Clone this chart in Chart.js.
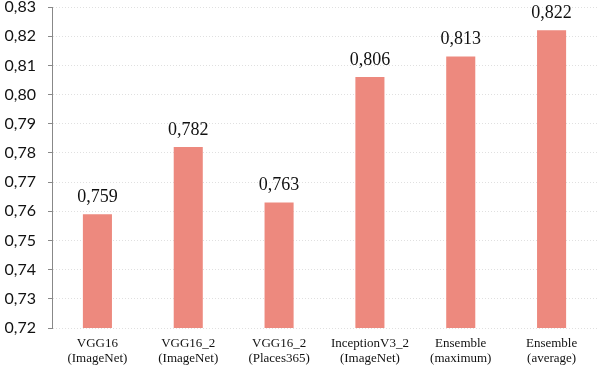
<!DOCTYPE html>
<html>
<head>
<meta charset="utf-8">
<script src="https://cdn.jsdelivr.net/npm/chart.js@4"></script>
<style>
  html, body { margin: 0; padding: 0; background: #fff; }
  #wrap { width: 600px; height: 368px; }
</style>
</head>
<body>
<div id="wrap"><canvas id="c" width="600" height="368"></canvas></div>
<script>
// chart data
const categories = [
    ['VGG16', '(ImageNet)'],
    ['VGG16_2', '(ImageNet)'],
    ['VGG16_2', '(Places365)'],
    ['InceptionV3_2', '(ImageNet)'],
    ['Ensemble', '(maximum)'],
    ['Ensemble', '(average)']
];
const accuracy = [0.759, 0.782, 0.763, 0.806, 0.813, 0.822];
const yMin = 0.72;
const yMax = 0.83;
const yStep = 0.01;

const fmt = (v, digits) => v.toFixed(digits).replace('.', ',');

// draws the value above each bar
const valueLabels = {
    id: 'valueLabels',
    afterDatasetsDraw(chart) {
        const ctx = chart.ctx;
        const meta = chart.getDatasetMeta(0);
        ctx.save();
        ctx.font = '18px "Liberation Serif", serif';
        ctx.fillStyle = '#111';
        ctx.textAlign = 'center';
        ctx.textBaseline = 'bottom';
        meta.data.forEach((bar, i) => {
            ctx.fillText(fmt(accuracy[i], 3), bar.x, bar.y - 8);
        });
        ctx.restore();
    }
};

const ctx = document.getElementById('c').getContext('2d');
new Chart(ctx, {
    type: 'bar',
    data: {
        labels: categories,
        datasets: [{
            data: accuracy,
            backgroundColor: 'rgb(237, 137, 126)',
            borderWidth: 0,
            barPercentage: 0.32,
            categoryPercentage: 1
        }]
    },
    options: {
        responsive: false,
        animation: false,
        layout: { padding: { top: 7, right: 3, left: 0, bottom: 0 } },
        plugins: {
            legend: { display: false },
            tooltip: { enabled: false }
        },
        scales: {
            x: {
                afterFit(scale) { scale.height = 40; },
                grid: { display: false },
                border: { display: false },
                ticks: {
                    color: '#111',
                    font: { family: '"Liberation Serif", serif', size: 13, lineHeight: 1.15 },
                    padding: 0,
                    maxRotation: 0
                }
            },
            y: {
                min: yMin,
                max: yMax,
                afterFit(scale) {
                    scale.width = 52;
                    scale.paddingTop = 0;
                    scale.paddingBottom = 0;
                },
                afterBuildTicks(scale) {
                    const ticks = [];
                    for (let i = 0; i <= Math.round((yMax - yMin) / yStep); i++) {
                        ticks.push({ value: +(yMin + i * yStep).toFixed(2) });
                    }
                    scale.ticks = ticks;
                },
                grid: {
                    color: '#e0e0e0',
                    tickLength: 4,
                    tickColor: '#888',
                    tickBorderDash: []
                },
                border: { display: true, color: '#888', width: 1, dash: [1, 2] },
                ticks: {
                    color: '#111',
                    font: { family: 'Lato, sans-serif', size: 16 },
                    padding: 12,
                    callback: (v) => fmt(v, 2)
                }
            }
        }
    },
    plugins: [valueLabels]
});
</script>
</body>
</html>
